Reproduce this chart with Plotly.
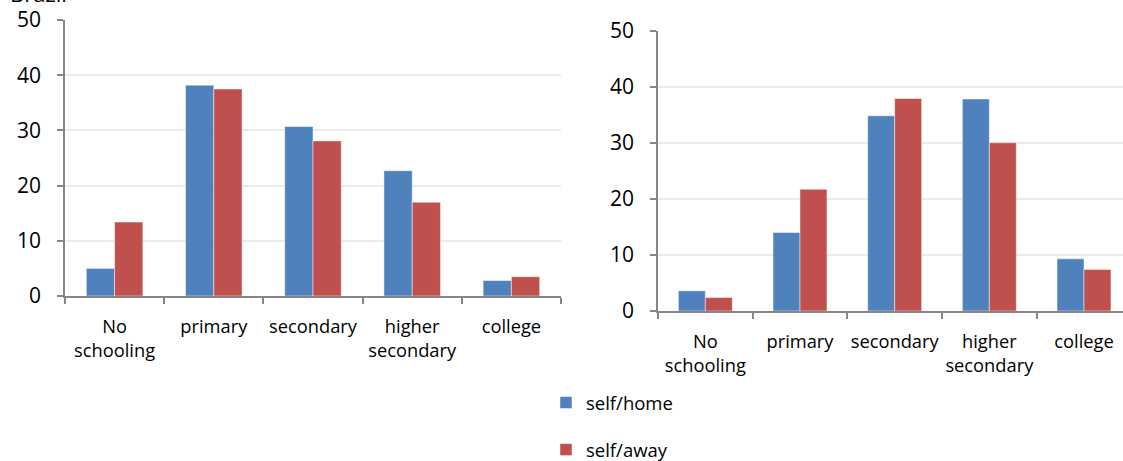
import plotly.graph_objects as go

categories = ["No<br>schooling", "primary", "secondary", "higher<br>secondary", "college"]
left_home = [5.0, 38.2, 30.7, 22.7, 2.8]
left_away = [13.4, 37.5, 28.1, 17.0, 3.5]
right_home = [3.6, 14.0, 34.8, 37.8, 9.3]
right_away = [2.4, 21.7, 37.9, 30.0, 7.4]
y_ticks = [0, 10, 20, 30, 40, 50]
series_names = ["self/home", "self/away"]
title_text = "Brazil"

BLUE = "#4F81BD"
RED = "#C0504D"
W, H = 1123, 461
FONT = "Open Sans"

fig = go.Figure()
fig.add_trace(go.Bar(x=categories, y=left_home, name=series_names[0], marker_color=BLUE,
                     marker_line=dict(color="rgba(255,255,255,0.6)", width=0.8),
                     xaxis="x", yaxis="y", legendgroup="a"))
fig.add_trace(go.Bar(x=categories, y=left_away, name=series_names[1], marker_color=RED,
                     marker_line=dict(color="rgba(255,255,255,0.6)", width=0.8),
                     xaxis="x", yaxis="y", legendgroup="b"))
fig.add_trace(go.Bar(x=categories, y=right_home, name=series_names[0], marker_color=BLUE,
                     marker_line=dict(color="rgba(255,255,255,0.6)", width=0.8),
                     xaxis="x2", yaxis="y2", legendgroup="a", showlegend=False))
fig.add_trace(go.Bar(x=categories, y=right_away, name=series_names[1], marker_color=RED,
                     marker_line=dict(color="rgba(255,255,255,0.6)", width=0.8),
                     xaxis="x2", yaxis="y2", legendgroup="b", showlegend=False))

def px_x(p):
    return p / W

def px_y(p):
    return (H - p) / H

axis_common_x = dict(
    showline=True, linecolor="#868686", linewidth=1.5,
    ticks="outside", ticklen=6, tickcolor="#868686", tickwidth=1.5,
    tickson="boundaries", showgrid=False, automargin=False, tickangle=0,
    tickfont=dict(family=FONT, size=18.3, color="#000000"),
    fixedrange=True,
)
axis_common_y = dict(
    showline=True, linecolor="#868686", linewidth=1.5,
    ticks="outside", ticklen=6, tickcolor="#868686", tickwidth=1.5,
    showgrid=True, gridcolor="#EAEAEA", gridwidth=1.5,
    tickvals=y_ticks, range=[0, 50], zeroline=False, automargin=False,
    tickfont=dict(family=FONT, size=21, color="#000000"),
    ticklabelstandoff=12,
    fixedrange=True,
)

fig.update_layout(
    width=W, height=H,
    margin=dict(l=0, r=0, t=0, b=0, autoexpand=False),
    paper_bgcolor="white", plot_bgcolor="white",
    barmode="group", bargap=0.43, bargroupgap=0,
    font=dict(family=FONT, color="#000000"),
    xaxis=dict(domain=[px_x(65), px_x(561)], anchor="y", range=[-0.5, 4.5],
               ticklabelstandoff=13, **axis_common_x),
    yaxis=dict(domain=[px_y(296), px_y(20)], anchor="x", **axis_common_y),
    xaxis2=dict(domain=[px_x(658), 1.0], anchor="y2", range=[-0.5, 4.412],
                ticklabelstandoff=13, **axis_common_x),
    yaxis2=dict(domain=[px_y(311), px_y(30.6)], anchor="x2", **axis_common_y),
    legend=dict(x=px_x(546), y=px_y(384), xanchor="left", yanchor="top",
                orientation="v", tracegroupgap=20,
                font=dict(family=FONT, size=18.5, color="#000000"),
                bgcolor="rgba(0,0,0,0)"),
    annotations=[dict(text=title_text, x=px_x(8), y=px_y(10), xref="paper", yref="paper",
                      xanchor="left", yanchor="bottom", showarrow=False,
                      font=dict(family=FONT, size=22, color="#000000"))],
    showlegend=True,
)

fig.write_html("out.html")
